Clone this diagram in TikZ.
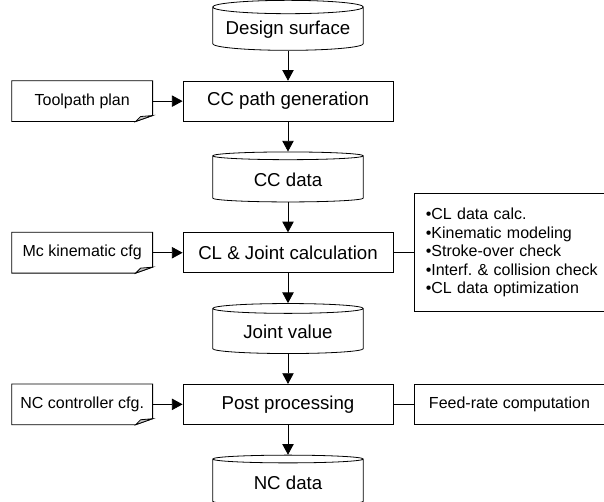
\documentclass[tikz,border=0pt]{standalone}
\usepackage{fontspec}
\setmainfont{Liberation Sans}
\usetikzlibrary{shapes.geometric,arrows.meta,positioning}
\frenchspacing

% folded-corner outline for the input documents
\newcommand{\dogear}[1]{%
  \draw (#1.north west) -- (#1.north east) -- ([yshift=4.5pt]#1.south east)
    -- ([xshift=-12.75pt]#1.south east) -- (#1.south west) -- cycle;
  \filldraw[fill=gray!45] ([xshift=-12.75pt]#1.south east)
    -- ([xshift=-9pt,yshift=3.75pt]#1.south east) -- ([yshift=4.5pt]#1.south east) -- cycle;}

\begin{document}
\begin{tikzpicture}[line width=0.6pt, node distance=22.5pt,
    store/.style={cylinder, shape border rotate=90, draw, aspect=0.1,
      minimum width=113pt, minimum height=37.5pt, font=\fontsize{14}{16}\selectfont},
    stage/.style={rectangle, draw, minimum width=157.5pt, minimum height=30pt,
      font=\fontsize{14}{16}\selectfont},
    docbox/.style={rectangle, minimum width=105pt, minimum height=30pt,
      font=\fontsize{12}{14}\selectfont},
    flow/.style={-{Triangle[length=8pt,width=8.5pt]}}]

    \useasboundingbox (0,0) rectangle (453pt,-375.75pt);

    % Main chain
    \node[store] (design) at (216pt,-22.5pt) {Design surface};
    \node[stage, below=of design] (ccpath) {CC path generation};
    \node[store, below=of ccpath] (ccdata) {CC data};
    \node[stage, below=of ccdata] (cljoint) {CL \& Joint calculation};
    \node[store, below=of cljoint] (joint) {Joint value};
    \node[stage, below=of joint] (post) {Post processing};
    \node[store, below=of post] (ncdata) {NC data};

    % Inputs
    \node[docbox, left=of ccpath] (toolpath) {Toolpath plan};
    \node[docbox, left=of cljoint] (kinecfg) {Mc kinematic cfg};
    \node[docbox, left=of post] (nccfg) {NC controller cfg.};
    \dogear{toolpath}
    \dogear{kinecfg}
    \dogear{nccfg}

    % Side tasks
    \node[rectangle, draw, right=15.75pt of cljoint, minimum height=88.5pt,
      text width=133pt, inner xsep=8.25pt, align=left,
      font=\fontsize{12}{13.9}\selectfont] (clsteps)
      {•CL data calc.\\•Kinematic modeling\\•Stroke-over check\\•Interf. \& collision check\\•CL data optimization};
    \node[rectangle, draw, right=15.75pt of post, minimum width=142pt, minimum height=30pt,
      font=\fontsize{12}{14}\selectfont] (feedrate) {Feed-rate computation};

    % Connectors
    \draw[flow] (design) -- (ccpath);
    \draw[flow] (ccpath) -- (ccdata);
    \draw[flow] (ccdata) -- (cljoint);
    \draw[flow] (cljoint) -- (joint);
    \draw[flow] (joint) -- (post);
    \draw[flow] (post) -- (ncdata);
    \draw[flow] (toolpath) -- (ccpath);
    \draw[flow] (kinecfg) -- (cljoint);
    \draw[flow] (nccfg) -- (post);
    \draw (cljoint) -- (clsteps);
    \draw (post) -- (feedrate);

  \end{tikzpicture}
\end{document}
